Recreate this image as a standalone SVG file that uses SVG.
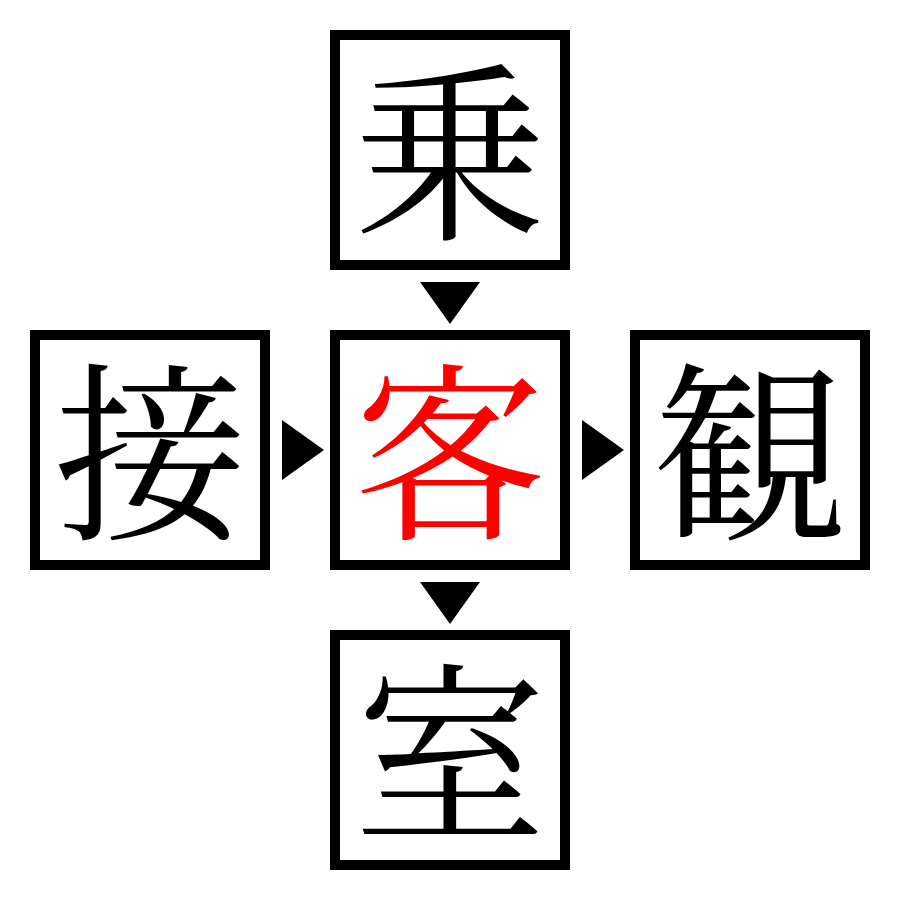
<svg xmlns="http://www.w3.org/2000/svg" width="900" height="900" viewBox="0 0 900 900">
<style>
.box{fill:#fff;stroke:#000;stroke-width:10}
.ch{font-family:"Noto Serif CJK JP","Noto Sans CJK JP","Liberation Serif",serif;font-size:192px;text-anchor:middle;dominant-baseline:central;fill:#000}
.red{fill:#ff0000}
.arr{fill:#000}
</style>
<rect width="900" height="900" fill="#fff"/>
<g id="connectors">
<polygon class="arr" points="420,282 480,282 450,324"/>
<polygon class="arr" points="420,582 480,582 450,624"/>
<polygon class="arr" points="282,420 282,480 324,450"/>
<polygon class="arr" points="582,420 582,480 624,450"/>
</g>
<g id="node-top"><rect class="box" x="335" y="35" width="230" height="230"/><text class="ch" x="450" y="142">乗</text></g>
<g id="node-left"><rect class="box" x="35" y="335" width="230" height="230"/><text class="ch" x="150" y="442">接</text></g>
<g id="node-center"><rect class="box" x="335" y="335" width="230" height="230"/><text class="ch red" x="450" y="442">客</text></g>
<g id="node-right"><rect class="box" x="635" y="335" width="230" height="230"/><text class="ch" x="750" y="442">観</text></g>
<g id="node-bottom"><rect class="box" x="335" y="635" width="230" height="230"/><text class="ch" x="450" y="742">室</text></g>
</svg>
